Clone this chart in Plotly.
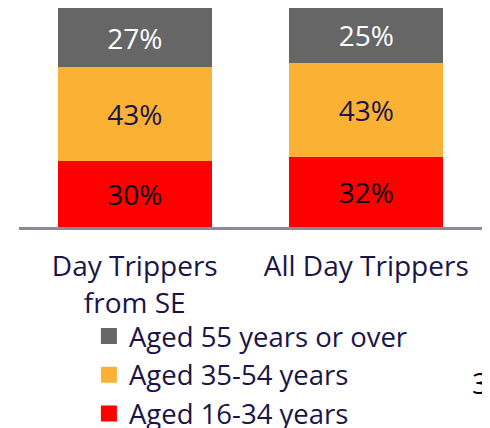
import plotly.graph_objects as go

categories = ["Day Trippers<br>from SE", "All Day Trippers"]
series_names = ["Aged 16-34 years", "Aged 35-54 years", "Aged 55 years or over"]
values_16_34 = [30, 32]
values_35_54 = [43, 43]
values_55_plus = [27, 25]

series_values = [values_16_34, values_35_54, values_55_plus]
colors = ["#FE0000", "#FAB134", "#666666"]
text_colors = ["#000000", "#1B1547", "#FFFFFF"]

FONT = "Open Sans"
NAVY = "#1B1547"

fig = go.Figure()
for name, vals, col, tcol in zip(series_names, series_values, colors, text_colors):
    fig.add_trace(go.Bar(
        x=categories, y=vals, name=name,
        marker=dict(color=col, line=dict(width=0)),
        text=[f"{v}%" for v in vals], textposition="inside",
        insidetextanchor="middle", textangle=0,
        textfont=dict(family=FONT, size=28, color=tcol),
        showlegend=False, width=0.664,
    ))
# legend entries with larger square markers
for name, col in zip(series_names, colors):
    fig.add_trace(go.Scatter(
        x=[None], y=[None], mode="markers", name=name,
        marker=dict(symbol="square", size=20, color=col),
    ))

# the page body adds an 8px offset, so the figure is 482x420
fig.update_layout(
    width=482, height=420,
    margin=dict(l=11, r=8, t=0, b=201, autoexpand=False),
    barmode="stack",
    plot_bgcolor="white", paper_bgcolor="white",
    font=dict(family=FONT, color=NAVY),
    legend=dict(
        x=0.151, y=-0.386, xanchor="left", yanchor="top",
        traceorder="reversed",
        font=dict(family=FONT, size=27.5, color=NAVY),
        tracegroupgap=0, itemsizing="trace",
        bgcolor="rgba(0,0,0,0)",
    ),
)
# "34" page number at right edge (cut off in the reference too)
fig.add_annotation(text="34", xref="x domain", yref="y domain",
                   x=0.974, y=-0.712,
                   showarrow=False, xanchor="left", yanchor="middle",
                   font=dict(family=FONT, size=29, color="#000000"))

fig.update_xaxes(
    range=[-0.5, 1.5], showline=True, linecolor="#8A8A9A", linewidth=2.5,
    ticks="outside", ticklen=13, tickcolor="rgba(0,0,0,0)",
    tickfont=dict(family=FONT, size=28, color=NAVY), showgrid=False,
)
fig.update_yaxes(range=[0, 100], visible=False, showgrid=False)

fig.write_html("out.html")
